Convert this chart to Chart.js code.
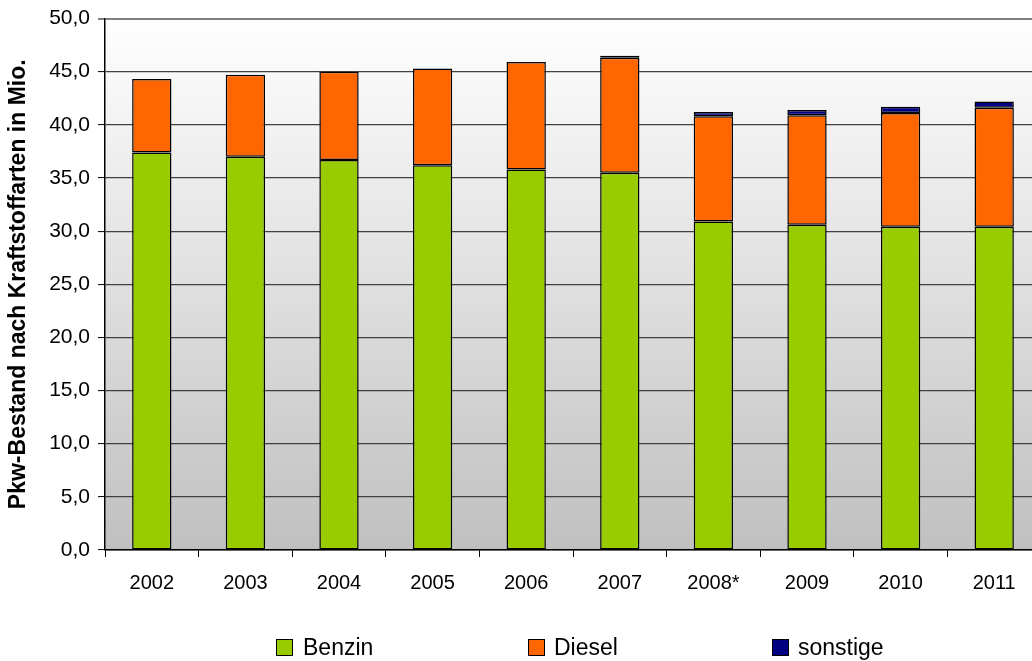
<!DOCTYPE html>
<html>
<head>
<meta charset="utf-8">
<script src="https://cdn.jsdelivr.net/npm/chart.js@4.4.1/dist/chart.umd.min.js"></script>
<style>
  html, body { margin: 0; padding: 0; background: #fff; overflow: hidden; }
  #wrap { position: relative; width: 1032px; height: 661px; overflow: hidden; }
  #chart { position: absolute; left: 0; top: 0; }
  .legend-item { position: absolute; top: 634px; font: 23px 'Liberation Sans', Arial, sans-serif; color: #000; line-height: 26px; white-space: nowrap; }
  .legend-box { position: absolute; left: 0; top: 5px; width: 15px; height: 15px; border: 1px solid #000; }
  .legend-item span.label { position: absolute; white-space: nowrap; }
</style>
</head>
<body>
<div id="wrap">
  <canvas id="chart" width="1042" height="661"></canvas>
  <div class="legend-item" style="left:276px"><div class="legend-box" style="background:#99cc00"></div><span class="label" style="left:27px">Benzin</span></div>
  <div class="legend-item" style="left:528px"><div class="legend-box" style="background:#ff6600"></div><span class="label" style="left:26px">Diesel</span></div>
  <div class="legend-item" style="left:772px"><div class="legend-box" style="background:#000080"></div><span class="label" style="left:26px">sonstige</span></div>
</div>
<script>
const years = ['2002', '2003', '2004', '2005', '2006', '2007', '2008*', '2009', '2010', '2011'];
const benzin = [37.4, 37.0, 36.7, 36.2, 35.8, 35.5, 30.9, 30.6, 30.4, 30.4];
const diesel = [6.9, 7.7, 8.3, 9.1, 10.1, 10.8, 9.9, 10.3, 10.7, 11.2];
// no visible "sonstige" segment before 2007
const sonstige = [null, null, null, null, null, 0.2, 0.4, 0.5, 0.6, 0.6];
const yTicks = [0, 5, 10, 15, 20, 25, 30, 35, 40, 45, 50];

const fontFamily = "'Liberation Sans', Arial, sans-serif";

// plot background: white at the top fading to light grey at the bottom
const plotBackground = {
  id: 'plotBackground',
  beforeDraw(chart) {
    const { ctx, chartArea } = chart;
    const gradient = ctx.createLinearGradient(0, chartArea.top, 0, chartArea.bottom);
    gradient.addColorStop(0, '#ffffff');
    gradient.addColorStop(1, '#c0c0c0');
    ctx.save();
    ctx.fillStyle = gradient;
    ctx.fillRect(chartArea.left, chartArea.top, chartArea.right - chartArea.left, chartArea.bottom - chartArea.top);
    ctx.restore();
  },
};

function barDataset(label, data, color) {
  return {
    label,
    data,
    backgroundColor: color,
    borderColor: '#000000',
    borderWidth: 1.5,
    borderSkipped: false,
    barPercentage: 0.42,
    categoryPercentage: 1.0,
  };
}

new Chart(document.getElementById('chart').getContext('2d'), {
  type: 'bar',
  data: {
    labels: years,
    datasets: [
      barDataset('Benzin', benzin, '#99cc00'),
      barDataset('Diesel', diesel, '#ff6600'),
      barDataset('sonstige', sonstige, '#000080'),
    ],
  },
  options: {
    responsive: false,
    animation: false,
    layout: { padding: { top: 17, right: 1, left: 0, bottom: 0 } },
    plugins: {
      legend: { display: false },
      tooltip: { enabled: false },
    },
    scales: {
      x: {
        stacked: true,
        grid: { offset: true, drawOnChartArea: false, drawTicks: true, tickLength: 7, tickColor: '#000', tickWidth: 1 },
        border: { color: '#000', width: 1.5 },
        ticks: { color: '#000', font: { family: fontFamily, size: 20 }, padding: 14, maxRotation: 0 },
        afterFit(scale) { scale.height = 111; },
      },
      y: {
        stacked: true,
        min: 0,
        max: 50,
        afterBuildTicks(scale) { scale.ticks = yTicks.map(v => ({ value: v })); },
        grid: {
          color(ctx) { return ctx.tick && ctx.tick.value === 50 ? '#808080' : '#404040'; },
          lineWidth(ctx) { return ctx.tick && ctx.tick.value === 50 ? 2 : 1.2; },
          tickLength: 7,
          tickColor: '#000',
          tickWidth: 1,
        },
        border: { color: '#000', width: 1.5 },
        ticks: {
          color: '#000',
          font: { family: fontFamily, size: 21, lineHeight: 1 },
          padding: 8,
          callback(value) { return value.toFixed(1).replace('.', ','); },
        },
        title: {
          display: true,
          text: 'Pkw-Bestand nach Kraftstoffarten in Mio.',
          color: '#000',
          font: { family: fontFamily, size: 23, weight: 'bold' },
          padding: { top: 5, bottom: 0 },
        },
        afterFit(scale) { scale.width = 105; },
      },
    },
  },
  plugins: [plotBackground],
});
</script>
</body>
</html>
